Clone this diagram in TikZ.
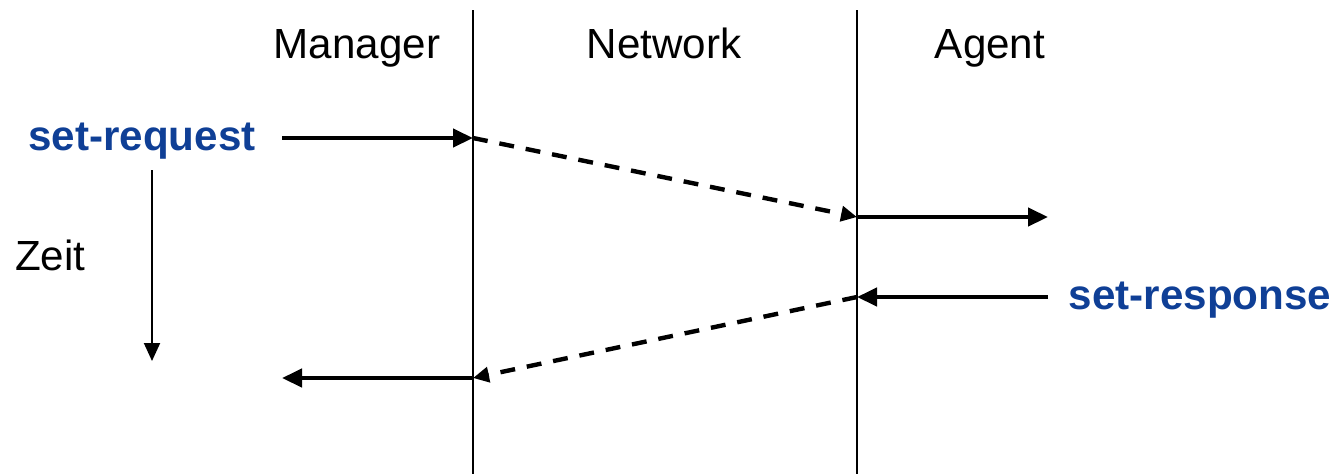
\documentclass[tikz,border=0pt]{standalone}
\usepackage{fontspec}
\setmainfont{Liberation Sans}
\usepackage{xcolor}
\usetikzlibrary{arrows.meta, positioning}
\definecolor{msgblue}{HTML}{0F3F96}

\begin{document}
\begin{tikzpicture}[
  x=0.02cm, y=-0.02cm,
  party/.style={font=\fontsize{24}{28}\selectfont, anchor=base},
  msglabel/.style={font=\fontsize{24}{28}\selectfont\bfseries, text=msgblue, anchor=base},
  lifeline/.style={line width=1.1pt},
  msg/.style={line width=2.5pt, -{Triangle[length=0.4cm, width=0.36cm]}},
  transit/.style={line width=2.5pt, dash pattern=on 8.5pt off 6.8pt, -{Triangle[length=0.32cm, width=0.3cm]}},
  timearr/.style={line width=1.1pt, -{Triangle[length=0.36cm, width=0.32cm]}}
]
  \useasboundingbox (0,0) rectangle (1337,474);

  % lifelines
  \coordinate (mgrtop) at (473,10);
  \coordinate (mgrbot) at (473,474);
  \coordinate (agttop) at (857,10);
  \coordinate (agtbot) at (857,474);
  \draw[lifeline] (mgrtop) -- (mgrbot);
  \draw[lifeline] (agttop) -- (agtbot);

  \node[party] (manager) at (357,58) {Manager};
  \node[party] (network) at (664,58) {Network};
  \node[party] (agent) at (990,58) {Agent};

  % request
  \node[msglabel] (req) at (142,150) {set-request};
  \coordinate (reqstart) at (282,138);
  \coordinate (reqin) at (473,138);
  \coordinate (reqout) at (857,217);
  \coordinate (reqend) at (1048,217);
  \draw[msg] (reqstart) -- (reqin);
  \draw[transit] (reqin) -- (reqout);
  \draw[msg] (reqout) -- (reqend);

  % response
  \node[msglabel] (resp) at (1200,309) {set-response};
  \coordinate (respstart) at (1048,297);
  \coordinate (respin) at (857,297);
  \coordinate (respout) at (473,378);
  \coordinate (respend) at (282,378);
  \draw[msg] (respstart) -- (respin);
  \draw[transit] (respin) -- (respout);
  \draw[msg] (respout) -- (respend);

  % time axis
  \node[party, anchor=base west] (zeit) at (9,270) {Zeit};
  \coordinate (timetop) at (152,170);
  \coordinate (timebot) at (152,361);
  \draw[timearr] (timetop) -- (timebot);
\end{tikzpicture}
\end{document}
